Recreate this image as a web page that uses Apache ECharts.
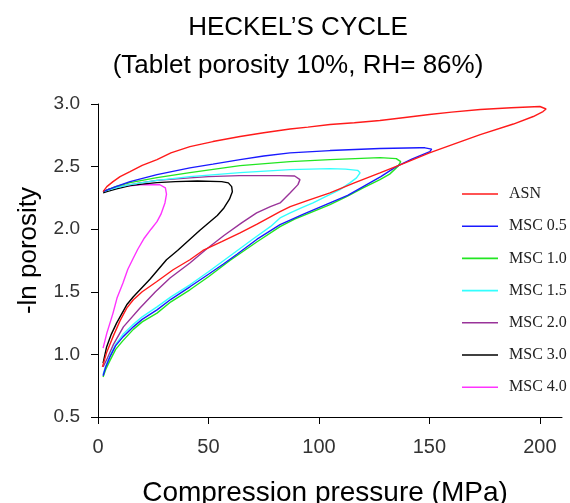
<!DOCTYPE html>
<html>
<head>
<meta charset="utf-8">
<title>Heckel's cycle</title>
<script src="https://cdn.jsdelivr.net/npm/echarts@6/dist/echarts.min.js"></script>
<style>
  html, body { margin: 0; padding: 0; background: #fff; }
  #chart { width: 570px; height: 503px; }
</style>
</head>
<body>
<div id="chart"></div>
<script>
// Heckel loops: each series runs up the loading branch to peak pressure,
// then back along the decompression branch.
const seriesNames = ['ASN', 'MSC 0.5', 'MSC 1.0', 'MSC 1.5', 'MSC 2.0', 'MSC 3.0', 'MSC 4.0'];
const seriesColors = ['#ff1a1a', '#1a1aff', '#22e622', '#33ffff', '#993399', '#000000', '#ff33ff'];

const xTicks = [0, 50, 100, 150, 200];
const yTicks = [0.5, 1.0, 1.5, 2.0, 2.5, 3.0];

// Compression pressure (MPa) and -ln porosity
const asnPressure = [2, 4, 7, 10, 13, 16, 20, 26.5, 34, 41.6, 47.5, 56, 64.3, 72, 82.4, 87, 95, 105, 116, 127.6, 139, 150, 161, 173, 188, 197, 201.4, 202.8,
  200, 187, 173, 160, 150, 138, 127.6, 116, 105, 95, 86.9, 75, 64.3, 52, 41.6, 33, 26.7, 20, 14.5, 10, 6.8, 4, 2.3];
const asnLnP = [0.9, 1.02, 1.15, 1.27, 1.37, 1.436, 1.5, 1.58, 1.676, 1.756, 1.83, 1.9, 1.97, 2.04, 2.14, 2.18, 2.23, 2.29, 2.37, 2.45, 2.53, 2.61, 2.68, 2.756, 2.84, 2.9, 2.94, 2.96,
  2.98, 2.97, 2.956, 2.935, 2.916, 2.89, 2.868, 2.85, 2.836, 2.815, 2.8, 2.77, 2.74, 2.7, 2.66, 2.61, 2.556, 2.51, 2.46, 2.42, 2.38, 2.34, 2.3];

const msc05Pressure = [2.3, 3.5, 5.4, 8, 11.3, 16, 20, 26.7, 33, 41.6, 50, 56.6, 62.9, 72, 82.4, 93, 105, 113, 120, 128, 135, 142, 150.2, 151, 148, 145.7,
  127.6, 105, 86.9, 75, 64.3, 52, 41.6, 26.7, 14.5, 8, 2.3];
const msc05LnP = [0.83, 0.9, 0.98, 1.07, 1.14, 1.22, 1.28, 1.356, 1.44, 1.54, 1.64, 1.72, 1.8, 1.92, 2.036, 2.12, 2.21, 2.27, 2.34, 2.42, 2.5, 2.56, 2.62, 2.64, 2.65, 2.65,
  2.644, 2.628, 2.61, 2.585, 2.556, 2.52, 2.49, 2.436, 2.38, 2.34, 2.3];

const msc10Pressure = [2.3, 3.5, 5.4, 8, 11.3, 16, 20, 26.7, 33, 41.6, 50, 59.7, 72, 82.4, 89, 97.3, 105, 112.5, 120, 127.6, 132, 135.7, 137, 135, 127.6,
  105, 86.9, 64.3, 41.6, 26.7, 14.5, 8, 2.3];
const msc10LnP = [0.82, 0.88, 0.95, 1.04, 1.11, 1.2, 1.26, 1.33, 1.42, 1.516, 1.62, 1.75, 1.9, 2.02, 2.08, 2.14, 2.196, 2.26, 2.33, 2.396, 2.44, 2.5, 2.54, 2.564, 2.572,
  2.556, 2.54, 2.508, 2.452, 2.412, 2.372, 2.34, 2.3];

const msc15Pressure = [2.3, 3.5, 5.4, 8, 11.3, 16, 20, 26.7, 33, 41.6, 50, 60, 70, 78, 82.4, 87, 92, 97.3, 103, 109.5, 114, 117, 118.6, 117.5, 112,
  105, 86.9, 64.3, 41.6, 26.7, 14.5, 8, 2.3];
const msc15LnP = [0.84, 0.91, 0.99, 1.08, 1.16, 1.24, 1.3, 1.38, 1.46, 1.556, 1.66, 1.79, 1.92, 2.02, 2.09, 2.13, 2.17, 2.21, 2.26, 2.316, 2.37, 2.41, 2.45, 2.47, 2.48,
  2.484, 2.476, 2.452, 2.42, 2.39, 2.356, 2.33, 2.3];

const msc20Pressure = [2.3, 4, 7, 11.5, 19, 26, 32.6, 41.6, 49, 57, 65, 71.8, 78, 82.4, 86.9, 90.5, 91.4, 89, 82,
  64, 50, 41.6, 26.7, 19, 10, 5, 2.3];
const msc20LnP = [0.9, 0.96, 1.08, 1.22, 1.37, 1.5, 1.61, 1.73, 1.84, 1.95, 2.05, 2.13, 2.18, 2.21, 2.29, 2.356, 2.396, 2.425, 2.428,
  2.428, 2.42, 2.41, 2.39, 2.37, 2.34, 2.32, 2.3];

const msc30Pressure = [2.3, 3.9, 6, 8.4, 13, 16, 23.5, 31, 36, 41, 46, 50, 54, 57, 59.5, 60.8, 60.5, 59, 56,
  45, 35, 26.7, 20, 14.5, 8, 4, 2.3];
const msc30LnP = [0.93, 1.06, 1.16, 1.25, 1.396, 1.46, 1.6, 1.756, 1.83, 1.91, 1.99, 2.05, 2.11, 2.17, 2.24, 2.3, 2.34, 2.37, 2.38,
  2.385, 2.38, 2.372, 2.36, 2.348, 2.32, 2.3, 2.29];

const msc40Pressure = [2.3, 4, 5.4, 6.8, 8.6, 11.3, 13.5, 16, 18, 21, 24, 26.7, 28.5, 30.3, 31, 30.5, 28,
  20, 11.3, 5, 2.3];
const msc40LnP = [1.05, 1.17, 1.25, 1.33, 1.45, 1.57, 1.68, 1.77, 1.84, 1.93, 2.0, 2.06, 2.12, 2.21, 2.28, 2.33, 2.355,
  2.356, 2.34, 2.32, 2.3];

const pressureSets = [asnPressure, msc05Pressure, msc10Pressure, msc15Pressure, msc20Pressure, msc30Pressure, msc40Pressure];
const lnPSets = [asnLnP, msc05LnP, msc10LnP, msc15LnP, msc20LnP, msc30LnP, msc40LnP];

const chart = echarts.init(document.getElementById('chart'), null, { renderer: 'canvas' });

const sans = '"Liberation Sans", Arial, sans-serif';
const serif = '"Liberation Serif", "Times New Roman", serif';

const series = seriesNames.map((name, i) => ({
  name: name,
  type: 'line',
  symbol: 'none',
  showSymbol: false,
  smooth: false,
  animation: false,
  z: 10 - i,
  color: seriesColors[i],
  lineStyle: { color: seriesColors[i], width: 1.4 },
  data: pressureSets[i].map((p, k) => [p, lnPSets[i][k]])
}));

chart.setOption({
  backgroundColor: '#ffffff',
  animation: false,
  graphic: [
    {
      type: 'text', x: 298, y: 28,
      style: { text: 'HECKEL’S CYCLE', font: '26px ' + sans, fill: '#000', textAlign: 'center', textVerticalAlign: 'middle' }
    },
    {
      type: 'text', x: 298, y: 66,
      style: { text: '(Tablet porosity 10%, RH= 86%)', font: '26px ' + sans, fill: '#000', textAlign: 'center', textVerticalAlign: 'middle' }
    }
  ],
  grid: { left: 98, top: 104, right: 8, bottom: 86, containLabel: false, outerBoundsMode: 'none' },
  legend: {
    orient: 'vertical',
    left: 457,
    top: 181,
    icon: 'rect',
    itemWidth: 36,
    itemHeight: 1.6,
    itemGap: 16.2,
    data: seriesNames,
    textStyle: { fontFamily: serif, fontSize: 16, color: '#222', padding: [0, 0, 0, 6] }
  },
  xAxis: {
    type: 'value',
    min: 0,
    max: 210,
    interval: 50,
    name: 'Compression pressure (MPa)',
    nameLocation: 'middle',
    nameGap: 62,
    nameMoveOverlap: false,
    nameTextStyle: { fontFamily: sans, fontSize: 28, color: '#000', padding: [0, 10, 0, 0] },
    axisLine: { show: true, onZero: false, lineStyle: { color: '#000', width: 1 } },
    axisTick: { show: true, length: 7, lineStyle: { color: '#000' }, customValues: xTicks },
    axisLabel: {
      fontFamily: sans, fontSize: 20, color: '#333', margin: 20,
      formatter: v => (v % 50 === 0 ? String(v) : '')
    },
    splitLine: { show: false }
  },
  yAxis: {
    type: 'value',
    min: 0.5,
    max: 3.0,
    interval: 0.5,
    name: '-ln porosity',
    nameLocation: 'middle',
    nameGap: 56,
    nameMoveOverlap: false,
    nameTextStyle: { fontFamily: sans, fontSize: 26, color: '#000', padding: [0, 0, 0, 20] },
    axisLine: { show: true, onZero: false, lineStyle: { color: '#000', width: 1 } },
    axisTick: { show: true, length: 7, lineStyle: { color: '#000' } },
    axisLabel: {
      fontFamily: sans, fontSize: 19, color: '#333', margin: 18,
      formatter: v => v.toFixed(1)
    },
    splitLine: { show: false }
  },
  series: series
});
</script>
</body>
</html>
